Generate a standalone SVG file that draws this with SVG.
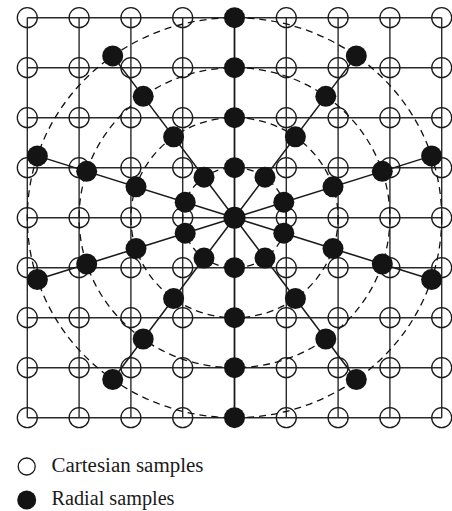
<svg xmlns="http://www.w3.org/2000/svg" width="452" height="511" viewBox="0 0 452 511">
  <style>
    .grid { stroke: #2a2a2a; stroke-width: 1.4; fill: none; }
    .cart { fill: none; stroke: #1a1a1a; stroke-width: 1.3; }
    .rad { fill: #141414; stroke: none; }
    .ring { fill: none; stroke: #111; stroke-width: 1.3; stroke-dasharray: 7 5; }
    .spoke { stroke: #1a1a1a; stroke-width: 1.5; }
    .label { font-family: "Liberation Serif", "Times New Roman", serif; font-size: 20.5px; fill: #1a1a1a; }
  </style>

  <!-- Cartesian grid lines (centre to centre of the sample points) -->
  <g id="grid-lines" class="grid">
    <path d="M27.3 17.7H441.7M27.3 67.7H441.7M27.3 117.7H441.7M27.3 167.7H441.7M27.3 217.7H441.7M27.3 267.7H441.7M27.3 317.7H441.7M27.3 367.7H441.7M27.3 417.7H441.7"/>
    <path d="M27.3 17.7V417.7M79.1 17.7V417.7M130.9 17.7V417.7M182.7 17.7V417.7M234.5 17.7V417.7M286.3 17.7V417.7M338.1 17.7V417.7M389.9 17.7V417.7M441.7 17.7V417.7"/>
  </g>

  <!-- Concentric sampling rings -->
  <g id="rings">
    <ellipse class="ring" cx="234.5" cy="217.7" rx="51.8" ry="50"/>
    <ellipse class="ring" cx="234.5" cy="217.7" rx="103.6" ry="100"/>
    <ellipse class="ring" cx="234.5" cy="217.7" rx="155.4" ry="150"/>
    <ellipse class="ring" cx="234.5" cy="217.7" rx="207.2" ry="200"/>
  </g>

  <!-- Radial spokes every 36 degrees -->
  <g id="connectors" class="spoke">
    <line x1="234.5" y1="217.7" x2="431.6" y2="155.9"/>
    <line x1="234.5" y1="217.7" x2="356.3" y2="55.9"/>
    <line x1="234.5" y1="217.7" x2="234.5" y2="17.7"/>
    <line x1="234.5" y1="217.7" x2="112.7" y2="55.9"/>
    <line x1="234.5" y1="217.7" x2="37.4" y2="155.9"/>
    <line x1="234.5" y1="217.7" x2="37.4" y2="279.5"/>
    <line x1="234.5" y1="217.7" x2="112.7" y2="379.5"/>
    <line x1="234.5" y1="217.7" x2="234.5" y2="417.7"/>
    <line x1="234.5" y1="217.7" x2="356.3" y2="379.5"/>
    <line x1="234.5" y1="217.7" x2="431.6" y2="279.5"/>
  </g>

  <!-- Cartesian sample points -->
  <g id="cartesian-samples">
    <g id="cart-0-0"><circle class="cart" cx="27.3" cy="17.7" r="10"/></g>
    <g id="cart-0-1"><circle class="cart" cx="79.1" cy="17.7" r="10"/></g>
    <g id="cart-0-2"><circle class="cart" cx="130.9" cy="17.7" r="10"/></g>
    <g id="cart-0-3"><circle class="cart" cx="182.7" cy="17.7" r="10"/></g>
    <g id="cart-0-5"><circle class="cart" cx="286.3" cy="17.7" r="10"/></g>
    <g id="cart-0-6"><circle class="cart" cx="338.1" cy="17.7" r="10"/></g>
    <g id="cart-0-7"><circle class="cart" cx="389.9" cy="17.7" r="10"/></g>
    <g id="cart-0-8"><circle class="cart" cx="441.7" cy="17.7" r="10"/></g>

    <g id="cart-1-0"><circle class="cart" cx="27.3" cy="67.7" r="10"/></g>
    <g id="cart-1-1"><circle class="cart" cx="79.1" cy="67.7" r="10"/></g>
    <g id="cart-1-2"><circle class="cart" cx="130.9" cy="67.7" r="10"/></g>
    <g id="cart-1-3"><circle class="cart" cx="182.7" cy="67.7" r="10"/></g>
    <g id="cart-1-5"><circle class="cart" cx="286.3" cy="67.7" r="10"/></g>
    <g id="cart-1-6"><circle class="cart" cx="338.1" cy="67.7" r="10"/></g>
    <g id="cart-1-7"><circle class="cart" cx="389.9" cy="67.7" r="10"/></g>
    <g id="cart-1-8"><circle class="cart" cx="441.7" cy="67.7" r="10"/></g>

    <g id="cart-2-0"><circle class="cart" cx="27.3" cy="117.7" r="10"/></g>
    <g id="cart-2-1"><circle class="cart" cx="79.1" cy="117.7" r="10"/></g>
    <g id="cart-2-2"><circle class="cart" cx="130.9" cy="117.7" r="10"/></g>
    <g id="cart-2-3"><circle class="cart" cx="182.7" cy="117.7" r="10"/></g>
    <g id="cart-2-5"><circle class="cart" cx="286.3" cy="117.7" r="10"/></g>
    <g id="cart-2-6"><circle class="cart" cx="338.1" cy="117.7" r="10"/></g>
    <g id="cart-2-7"><circle class="cart" cx="389.9" cy="117.7" r="10"/></g>
    <g id="cart-2-8"><circle class="cart" cx="441.7" cy="117.7" r="10"/></g>

    <g id="cart-3-0"><circle class="cart" cx="27.3" cy="167.7" r="10"/></g>
    <g id="cart-3-1"><circle class="cart" cx="79.1" cy="167.7" r="10"/></g>
    <g id="cart-3-2"><circle class="cart" cx="130.9" cy="167.7" r="10"/></g>
    <g id="cart-3-3"><circle class="cart" cx="182.7" cy="167.7" r="10"/></g>
    <g id="cart-3-5"><circle class="cart" cx="286.3" cy="167.7" r="10"/></g>
    <g id="cart-3-6"><circle class="cart" cx="338.1" cy="167.7" r="10"/></g>
    <g id="cart-3-7"><circle class="cart" cx="389.9" cy="167.7" r="10"/></g>
    <g id="cart-3-8"><circle class="cart" cx="441.7" cy="167.7" r="10"/></g>

    <g id="cart-4-0"><circle class="cart" cx="27.3" cy="217.7" r="10"/></g>
    <g id="cart-4-1"><circle class="cart" cx="79.1" cy="217.7" r="10"/></g>
    <g id="cart-4-2"><circle class="cart" cx="130.9" cy="217.7" r="10"/></g>
    <g id="cart-4-3"><circle class="cart" cx="182.7" cy="217.7" r="10"/></g>
    <g id="cart-4-5"><circle class="cart" cx="286.3" cy="217.7" r="10"/></g>
    <g id="cart-4-6"><circle class="cart" cx="338.1" cy="217.7" r="10"/></g>
    <g id="cart-4-7"><circle class="cart" cx="389.9" cy="217.7" r="10"/></g>
    <g id="cart-4-8"><circle class="cart" cx="441.7" cy="217.7" r="10"/></g>

    <g id="cart-5-0"><circle class="cart" cx="27.3" cy="267.7" r="10"/></g>
    <g id="cart-5-1"><circle class="cart" cx="79.1" cy="267.7" r="10"/></g>
    <g id="cart-5-2"><circle class="cart" cx="130.9" cy="267.7" r="10"/></g>
    <g id="cart-5-3"><circle class="cart" cx="182.7" cy="267.7" r="10"/></g>
    <g id="cart-5-5"><circle class="cart" cx="286.3" cy="267.7" r="10"/></g>
    <g id="cart-5-6"><circle class="cart" cx="338.1" cy="267.7" r="10"/></g>
    <g id="cart-5-7"><circle class="cart" cx="389.9" cy="267.7" r="10"/></g>
    <g id="cart-5-8"><circle class="cart" cx="441.7" cy="267.7" r="10"/></g>

    <g id="cart-6-0"><circle class="cart" cx="27.3" cy="317.7" r="10"/></g>
    <g id="cart-6-1"><circle class="cart" cx="79.1" cy="317.7" r="10"/></g>
    <g id="cart-6-2"><circle class="cart" cx="130.9" cy="317.7" r="10"/></g>
    <g id="cart-6-3"><circle class="cart" cx="182.7" cy="317.7" r="10"/></g>
    <g id="cart-6-5"><circle class="cart" cx="286.3" cy="317.7" r="10"/></g>
    <g id="cart-6-6"><circle class="cart" cx="338.1" cy="317.7" r="10"/></g>
    <g id="cart-6-7"><circle class="cart" cx="389.9" cy="317.7" r="10"/></g>
    <g id="cart-6-8"><circle class="cart" cx="441.7" cy="317.7" r="10"/></g>

    <g id="cart-7-0"><circle class="cart" cx="27.3" cy="367.7" r="10"/></g>
    <g id="cart-7-1"><circle class="cart" cx="79.1" cy="367.7" r="10"/></g>
    <g id="cart-7-2"><circle class="cart" cx="130.9" cy="367.7" r="10"/></g>
    <g id="cart-7-3"><circle class="cart" cx="182.7" cy="367.7" r="10"/></g>
    <g id="cart-7-5"><circle class="cart" cx="286.3" cy="367.7" r="10"/></g>
    <g id="cart-7-6"><circle class="cart" cx="338.1" cy="367.7" r="10"/></g>
    <g id="cart-7-7"><circle class="cart" cx="389.9" cy="367.7" r="10"/></g>
    <g id="cart-7-8"><circle class="cart" cx="441.7" cy="367.7" r="10"/></g>

    <g id="cart-8-0"><circle class="cart" cx="27.3" cy="417.7" r="10"/></g>
    <g id="cart-8-1"><circle class="cart" cx="79.1" cy="417.7" r="10"/></g>
    <g id="cart-8-2"><circle class="cart" cx="130.9" cy="417.7" r="10"/></g>
    <g id="cart-8-3"><circle class="cart" cx="182.7" cy="417.7" r="10"/></g>
    <g id="cart-8-5"><circle class="cart" cx="286.3" cy="417.7" r="10"/></g>
    <g id="cart-8-6"><circle class="cart" cx="338.1" cy="417.7" r="10"/></g>
    <g id="cart-8-7"><circle class="cart" cx="389.9" cy="417.7" r="10"/></g>
    <g id="cart-8-8"><circle class="cart" cx="441.7" cy="417.7" r="10"/></g>
  </g>

  <!-- Radial sample points: 10 spokes x 4 radii plus the origin -->
  <g id="radial-samples">
    <g id="rad-origin"><circle class="rad" cx="234.5" cy="217.7" r="11"/></g>

    <g id="rad-18-1"><circle class="rad" cx="283.8" cy="202.2" r="10.5"/></g>
    <g id="rad-18-2"><circle class="rad" cx="333.0" cy="186.8" r="10.5"/></g>
    <g id="rad-18-3"><circle class="rad" cx="382.3" cy="171.3" r="10.5"/></g>
    <g id="rad-18-4"><circle class="rad" cx="431.6" cy="155.9" r="10.5"/></g>

    <g id="rad-54-1"><circle class="rad" cx="265.0" cy="177.2" r="10.5"/></g>
    <g id="rad-54-2"><circle class="rad" cx="295.4" cy="136.8" r="10.5"/></g>
    <g id="rad-54-3"><circle class="rad" cx="325.8" cy="96.3" r="10.5"/></g>
    <g id="rad-54-4"><circle class="rad" cx="356.3" cy="55.9" r="10.5"/></g>

    <g id="rad-90-1"><circle class="rad" cx="234.5" cy="167.7" r="10.5"/></g>
    <g id="rad-90-2"><circle class="rad" cx="234.5" cy="117.7" r="10.5"/></g>
    <g id="rad-90-3"><circle class="rad" cx="234.5" cy="67.7" r="10.5"/></g>
    <g id="rad-90-4"><circle class="rad" cx="234.5" cy="17.7" r="10.5"/></g>

    <g id="rad-126-1"><circle class="rad" cx="204.0" cy="177.2" r="10.5"/></g>
    <g id="rad-126-2"><circle class="rad" cx="173.6" cy="136.8" r="10.5"/></g>
    <g id="rad-126-3"><circle class="rad" cx="143.2" cy="96.3" r="10.5"/></g>
    <g id="rad-126-4"><circle class="rad" cx="112.7" cy="55.9" r="10.5"/></g>

    <g id="rad-162-1"><circle class="rad" cx="185.2" cy="202.2" r="10.5"/></g>
    <g id="rad-162-2"><circle class="rad" cx="136.0" cy="186.8" r="10.5"/></g>
    <g id="rad-162-3"><circle class="rad" cx="86.7" cy="171.3" r="10.5"/></g>
    <g id="rad-162-4"><circle class="rad" cx="37.4" cy="155.9" r="10.5"/></g>

    <g id="rad-198-1"><circle class="rad" cx="185.2" cy="233.2" r="10.5"/></g>
    <g id="rad-198-2"><circle class="rad" cx="136.0" cy="248.6" r="10.5"/></g>
    <g id="rad-198-3"><circle class="rad" cx="86.7" cy="264.0" r="10.5"/></g>
    <g id="rad-198-4"><circle class="rad" cx="37.4" cy="279.5" r="10.5"/></g>

    <g id="rad-234-1"><circle class="rad" cx="204.0" cy="258.1" r="10.5"/></g>
    <g id="rad-234-2"><circle class="rad" cx="173.6" cy="298.6" r="10.5"/></g>
    <g id="rad-234-3"><circle class="rad" cx="143.2" cy="339.0" r="10.5"/></g>
    <g id="rad-234-4"><circle class="rad" cx="112.7" cy="379.5" r="10.5"/></g>

    <g id="rad-270-1"><circle class="rad" cx="234.5" cy="267.7" r="10.5"/></g>
    <g id="rad-270-2"><circle class="rad" cx="234.5" cy="317.7" r="10.5"/></g>
    <g id="rad-270-3"><circle class="rad" cx="234.5" cy="367.7" r="10.5"/></g>
    <g id="rad-270-4"><circle class="rad" cx="234.5" cy="417.7" r="10.5"/></g>

    <g id="rad-306-1"><circle class="rad" cx="265.0" cy="258.1" r="10.5"/></g>
    <g id="rad-306-2"><circle class="rad" cx="295.4" cy="298.6" r="10.5"/></g>
    <g id="rad-306-3"><circle class="rad" cx="325.8" cy="339.0" r="10.5"/></g>
    <g id="rad-306-4"><circle class="rad" cx="356.3" cy="379.5" r="10.5"/></g>

    <g id="rad-342-1"><circle class="rad" cx="283.8" cy="233.2" r="10.5"/></g>
    <g id="rad-342-2"><circle class="rad" cx="333.0" cy="248.6" r="10.5"/></g>
    <g id="rad-342-3"><circle class="rad" cx="382.3" cy="264.0" r="10.5"/></g>
    <g id="rad-342-4"><circle class="rad" cx="431.6" cy="279.5" r="10.5"/></g>
  </g>

  <!-- Legend -->
  <g id="legend">
    <g id="legend-cartesian">
      <circle class="cart" cx="26.7" cy="466.5" r="8.5"/>
      <text class="label" x="51.5" y="471.8" textLength="152" lengthAdjust="spacingAndGlyphs">Cartesian samples</text>
    </g>
    <g id="legend-radial">
      <circle class="rad" cx="26.7" cy="500" r="9.5"/>
      <text class="label" x="51.5" y="505" textLength="123" lengthAdjust="spacingAndGlyphs">Radial samples</text>
    </g>
  </g>
</svg>
